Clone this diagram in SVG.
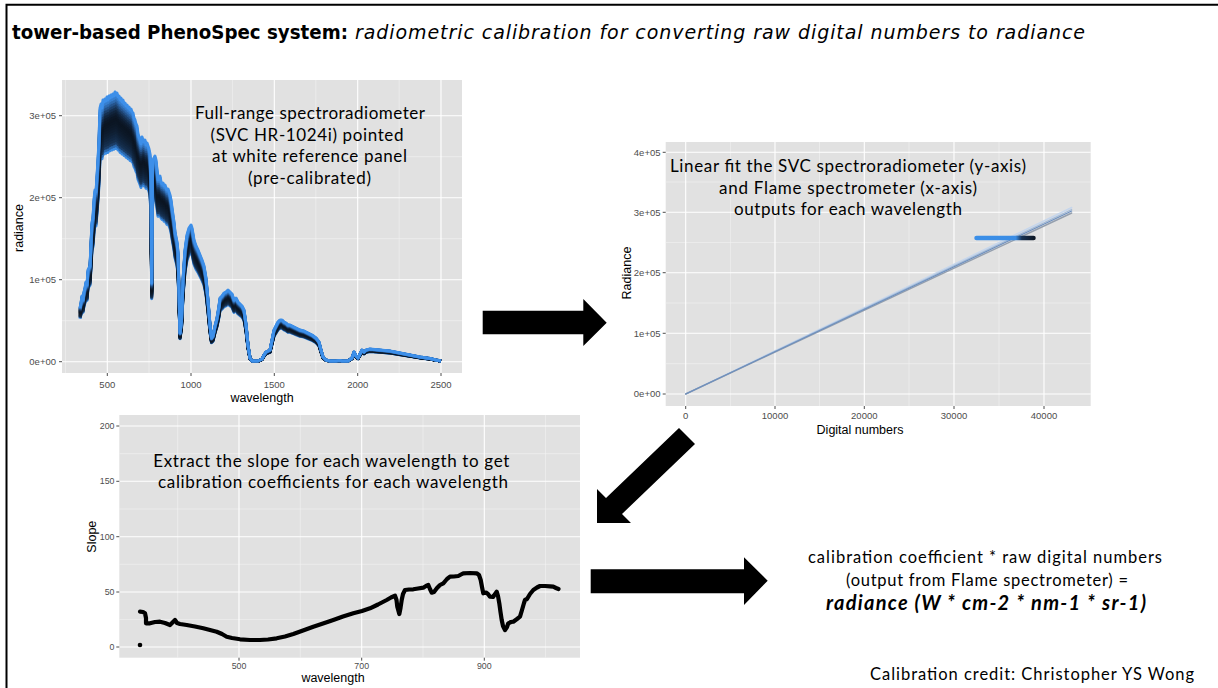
<svg xmlns="http://www.w3.org/2000/svg" xmlns:xlink="http://www.w3.org/1999/xlink" width="1218" height="688" viewBox="0 0 1218 688">
  <style>
    .panel{fill:#e1e1e1}
    .gmaj{stroke:#ffffff;stroke-width:1.1;fill:none}
    .gmin{stroke:#f4f4f4;stroke-width:0.55;fill:none}
    .tick{stroke:#4d4d4d;stroke-width:1}
    .tlx{font-family:'Liberation Sans',Arial,sans-serif;font-size:9.5px;fill:#4d4d4d;text-anchor:middle}
    .tly{font-family:'Liberation Sans',Arial,sans-serif;font-size:9.5px;fill:#4d4d4d;text-anchor:end}
    .sm{font-size:8.8px}
    .at{font-family:'Liberation Sans',Arial,sans-serif;font-size:12.5px;fill:#000;text-anchor:middle}
    .note{font-family:Lato,'Noto Sans',sans-serif;font-size:17px;fill:#000;text-anchor:middle}
    .arrow{fill:#000}
  </style>
  <defs>
    <!-- upper envelope of the white-panel radiance spectra (pixel space) -->
    <path id="spec" fill="none" stroke-linejoin="round" vector-effect="non-scaling-stroke"
      d="M80,308 L81,303 82,296 83,300 84,292 85,288 86,282 87,285 88,270 89,268 90,266 91,244 92,222 93,218 94,200 95,190 96,192 97,176 98,160 99,140 100,108 101,104 102,108 103,100 104,102 105,99 106,101 107,97 108,100 109,96 110,98 111,95 112,97 113,94 114,96 115,92 116,95 117,93 118,97 119,96 120,100 121,98 122,102 123,100 124,104 125,103 126,106 127,105 128,108 129,107 130,110 131,109 132,112 133,113 134,118 135,120 136,124 137,126 138,134 139,137 140,140 141,144 142,137 143,140 144,142 145,140 146,145 147,143 148,146 149,149 150,154 151,180 151.7,283 152.5,170 153,160 154,158 155,156 156,160 157,170 158,180 159,178 160,176 161,182 162,184 163,183 164,186 165,185 166,188 167,190 168,189 169,192 170,195 171,200 172,208 173,215 174,222 175,232 176,237 177,242 178,252 179,290 180,333 181.5,320 183,280 185,250 187,235 189,228 191,225 192,228 194,240 196,246 198,250 200,255 202,260 204,266 206,278 208,300 210,325 211.5,338 213,336 215,326 217,318 219,306 220,298 222,296 224,293 226,292 228,290 230,292 232,294 234,300 236,298 238,302 240,304 242,306 244,310 246,324 248,345 250,358 252,361 258,361 262,359 264,355 266,352 268,351 270,350 272,340 274,330 276,326 278,322 280,320 282,320 284,322 286,323 288,325 290,325 292,326 294,327 296,328 298,329 300,330 304,331 308,333 312,335 316,338 319,342 321,350 323,357 326,360 330,361 336,361 340,360.5 342,361 348,361 352,358 354,352 356,356 358,358 360,354 362,350 364,352 366,350 370,349 380,350 390,351 400,353 410,355 420,357 430,358.5 436,360 441,361"/>
    <linearGradient id="pts" x1="975" y1="0" x2="1035" y2="0" gradientUnits="userSpaceOnUse">
      <stop offset="0" stop-color="#3b8fe8"/>
      <stop offset="0.68" stop-color="#3a8ce4"/>
      <stop offset="0.78" stop-color="#173253"/>
      <stop offset="1" stop-color="#0c1522"/>
    </linearGradient>
  </defs>

  <!-- page frame -->
  <g id="frame">
    <path d="M6.5,700 V4.8 H1230" fill="none" stroke="#000" stroke-width="2"/>
  </g>

  <!-- heading -->
  <g id="title">
    <text x="12" y="39" font-family="'DejaVu Sans',sans-serif" font-size="19" font-weight="bold" textLength="336" lengthAdjust="spacingAndGlyphs">tower-based PhenoSpec system:</text>
    <text x="355" y="39" font-family="'DejaVu Sans',sans-serif" font-size="19" font-style="italic" textLength="730">radiometric calibration for converting raw digital numbers to radiance</text>
  </g>

  <!-- radiance spectra of the white reference panel -->
  <g id="plot-spectrum">
    <rect class="panel" x="62" y="80" width="400" height="293"/>
    <g class="gmin">
      <path d="M62,320.7 H462 M62,238.7 H462 M62,156.7 H462 M65.6,80 V373 M149,80 V373 M232.4,80 V373 M315.8,80 V373 M399.2,80 V373"/>
    </g>
    <g class="gmaj">
      <path d="M62,361.7 H462 M62,279.7 H462 M62,197.7 H462 M62,115.7 H462 M107.3,80 V373 M191,80 V373 M274.3,80 V373 M357.7,80 V373 M441,80 V373"/>
    </g>
    <use href="#spec" stroke="#3a8ce4" stroke-width="3" transform="matrix(1,0,0,0.80,0,72.34)"/>
    <use href="#spec" stroke="#2a66aa" stroke-width="3" transform="matrix(1,0,0,0.81,0,68.72)"/>
    <use href="#spec" stroke="#1b3d66" stroke-width="3" transform="matrix(1,0,0,0.82,0,65.11)"/>
    <use href="#spec" stroke="#16304f" stroke-width="3" transform="matrix(1,0,0,0.83,0,61.49)"/>
    <use href="#spec" stroke="#132a46" stroke-width="3" transform="matrix(1,0,0,0.84,0,57.87)"/>
    <use href="#spec" stroke="#11253e" stroke-width="3" transform="matrix(1,0,0,0.85,0,54.26)"/>
    <use href="#spec" stroke="#0f2136" stroke-width="3" transform="matrix(1,0,0,0.86,0,50.64)"/>
    <use href="#spec" stroke="#0e1d30" stroke-width="3" transform="matrix(1,0,0,0.87,0,47.02)"/>
    <use href="#spec" stroke="#0d1a2b" stroke-width="3" transform="matrix(1,0,0,0.88,0,43.40)"/>
    <use href="#spec" stroke="#0c1827" stroke-width="3" transform="matrix(1,0,0,0.89,0,39.79)"/>
    <use href="#spec" stroke="#0b1624" stroke-width="3" transform="matrix(1,0,0,0.90,0,36.17)"/>
    <use href="#spec" stroke="#0b1522" stroke-width="3" transform="matrix(1,0,0,0.91,0,32.55)"/>
    <use href="#spec" stroke="#0c1726" stroke-width="3" transform="matrix(1,0,0,0.92,0,28.94)"/>
    <use href="#spec" stroke="#0e1c2f" stroke-width="3" transform="matrix(1,0,0,0.93,0,25.32)"/>
    <use href="#spec" stroke="#11243c" stroke-width="3" transform="matrix(1,0,0,0.94,0,21.70)"/>
    <use href="#spec" stroke="#163050" stroke-width="3" transform="matrix(1,0,0,0.95,0,18.09)"/>
    <use href="#spec" stroke="#1d406b" stroke-width="3" transform="matrix(1,0,0,0.96,0,14.47)"/>
    <use href="#spec" stroke="#25548d" stroke-width="3" transform="matrix(1,0,0,0.97,0,10.85)"/>
    <use href="#spec" stroke="#2e6aaf" stroke-width="3" transform="matrix(1,0,0,0.98,0,7.23)"/>
    <use href="#spec" stroke="#367dcd" stroke-width="3" transform="matrix(1,0,0,0.99,0,3.62)"/>
    <use href="#spec" stroke="#3d8fe9" stroke-width="3"/>
    <g class="tick">
      <path d="M59,361.7 H62 M59,279.7 H62 M59,197.7 H62 M59,115.7 H62 M107.3,373 V376 M191,373 V376 M274.3,373 V376 M357.7,373 V376 M441,373 V376"/>
    </g>
    <text class="tly" x="56" y="365">0e+00</text>
    <text class="tly" x="56" y="283">1e+05</text>
    <text class="tly" x="56" y="201">2e+05</text>
    <text class="tly" x="56" y="119">3e+05</text>
    <text class="tlx" x="107.3" y="387.5">500</text>
    <text class="tlx" x="191" y="387.5">1000</text>
    <text class="tlx" x="274.3" y="387.5">1500</text>
    <text class="tlx" x="357.7" y="387.5">2000</text>
    <text class="tlx" x="441" y="387.5">2500</text>
    <text class="at" x="262" y="402">wavelength</text>
    <text class="at" transform="translate(22.5,228) rotate(-90)">radiance</text>
    <text class="note" x="310" y="119" textLength="230">Full-range spectroradiometer</text>
    <text class="note" x="307" y="140.5" textLength="193">(SVC HR-1024i) pointed</text>
    <text class="note" x="309.5" y="162" textLength="195">at white reference panel</text>
    <text class="note" x="309.5" y="183.5" textLength="123">(pre-calibrated)</text>
  </g>

  <!-- linear fit of radiance against digital numbers -->
  <g id="plot-fit">
    <rect class="panel" x="665.7" y="142" width="425" height="264"/>
    <g class="gmin">
      <path d="M665.7,363.7 H1090.7 M665.7,303 H1090.7 M665.7,242.5 H1090.7 M665.7,182 H1090.7 M730.4,142 V406 M819.6,142 V406 M909,142 V406 M999,142 V406"/>
    </g>
    <g class="gmaj">
      <path d="M665.7,394 H1090.7 M665.7,333.3 H1090.7 M665.7,272.7 H1090.7 M665.7,212.3 H1090.7 M665.7,152.3 H1090.7 M685.7,142 V406 M775,142 V406 M864.3,142 V406 M954,142 V406 M1044,142 V406"/>
    </g>
    <g fill="none" stroke-linecap="round">
      <line x1="685.7" y1="394" x2="1071.7" y2="207.5" stroke="#c6d6ec" stroke-width="1.6"/>
      <line x1="685.7" y1="394" x2="1071.7" y2="209.5" stroke="#a3bbd8" stroke-width="1.2"/>
      <line x1="685.7" y1="394" x2="1071.7" y2="213" stroke="#949fae" stroke-width="1.4"/>
      <line x1="685.7" y1="394" x2="1071.7" y2="211" stroke="#6d8fbe" stroke-width="1.2"/>
    </g>
    <line x1="976.5" y1="238" x2="1033.5" y2="238" stroke="url(#pts)" stroke-width="4.5" stroke-linecap="round"/>
    <g class="tick">
      <path d="M662.7,394 H665.7 M662.7,333.3 H665.7 M662.7,272.7 H665.7 M662.7,212.3 H665.7 M662.7,152.3 H665.7 M685.7,406 V409 M775,406 V409 M864.3,406 V409 M954,406 V409 M1044,406 V409"/>
    </g>
    <text class="tly" x="660.5" y="397.3">0e+00</text>
    <text class="tly" x="660.5" y="336.6">1e+05</text>
    <text class="tly" x="660.5" y="276">2e+05</text>
    <text class="tly" x="660.5" y="215.6">3e+05</text>
    <text class="tly" x="660.5" y="155.6">4e+05</text>
    <text class="tlx" x="685.7" y="418.5">0</text>
    <text class="tlx" x="775" y="418.5">10000</text>
    <text class="tlx" x="864.3" y="418.5">20000</text>
    <text class="tlx" x="954" y="418.5">30000</text>
    <text class="tlx" x="1044" y="418.5">40000</text>
    <text class="at" x="860" y="433.5">Digital numbers</text>
    <text class="at" transform="translate(630.5,273) rotate(-90)">Radiance</text>
    <text class="note" x="848" y="172.3" textLength="356">Linear fit the SVC spectroradiometer (y-axis)</text>
    <text class="note" x="848" y="194.3" textLength="258">and Flame spectrometer (x-axis)</text>
    <text class="note" x="848" y="215" textLength="228">outputs for each wavelength</text>
  </g>

  <!-- per-wavelength slopes (calibration coefficients) -->
  <g id="plot-slope">
    <rect class="panel" x="119.3" y="415" width="460.7" height="242.7"/>
    <g class="gmin">
      <path d="M119.3,619.4 H580 M119.3,564.3 H580 M119.3,509 H580 M119.3,453.7 H580 M177.7,415 V657.7 M300.3,415 V657.7 M423,415 V657.7 M545.6,415 V657.7"/>
    </g>
    <g class="gmaj">
      <path d="M119.3,647 H580 M119.3,592 H580 M119.3,536.7 H580 M119.3,481.3 H580 M119.3,426 H580 M239,415 V657.7 M361.7,415 V657.7 M484.3,415 V657.7"/>
    </g>
    <path fill="none" stroke="#000" stroke-width="4.2" stroke-linejoin="round" stroke-linecap="round"
      d="M140,611.7 L143,612 145,613.3 146,618 146,623.3 150,623.3 155,622 160,621.7 165,623 170,625 173,622 175,620 177,623 180,624 186.7,625 195,626.5 203.3,628.3 210,630 216.7,631.7 222,634 226.7,636.7 232,638 240,639.3 250,640 260,640 268,639.5 276.7,638.3 285,636.5 293.3,634 303,630.5 313.3,626.7 323,623.5 333.3,620 343,616.5 353.3,613.3 362,611 370,608.3 378,604.5 386.7,600 391,597.5 395,595.7 396.5,600 397.3,606.7 399.3,614 400.5,608 401.7,600 403,594 405,590 409,589.5 413.3,589.3 418,588.5 423.3,587.7 426,586 428.3,585 430,589 431.7,592.7 434,592 437,588 440,585 443.3,583.3 447,579 450,576.7 454,576.5 458.3,576 461,574.5 463.3,573.3 470,573 476.7,573.3 479,575 480.7,580 482,587 483.3,593.3 486,592.5 488,594 490,596.7 493,597 496.7,591.7 498,596 499.3,603.3 500.5,612 501.7,620 503,626 505,630 507,627 508.3,623.3 511,622 513.3,621.7 517,619 520,616.7 522,610 524,603 525,600 527,599 530,594 533.3,590 537,587.5 540,586 545,586 550,586.3 553.3,586.7 556,588 558.5,589"/>
    <circle cx="140" cy="645" r="2.3" fill="#000"/>
    <g class="tick">
      <path d="M116.3,647 H119.3 M116.3,592 H119.3 M116.3,536.7 H119.3 M116.3,481.3 H119.3 M116.3,426 H119.3 M239,657.7 V660.7 M361.7,657.7 V660.7 M484.3,657.7 V660.7"/>
    </g>
    <text class="tly sm" x="114.5" y="650.1">0</text>
    <text class="tly sm" x="114.5" y="595.1">50</text>
    <text class="tly sm" x="114.5" y="539.8">100</text>
    <text class="tly sm" x="114.5" y="484.4">150</text>
    <text class="tly sm" x="114.5" y="429.1">200</text>
    <text class="tlx sm" x="239" y="668.5">500</text>
    <text class="tlx sm" x="361.7" y="668.5">700</text>
    <text class="tlx sm" x="484.3" y="668.5">900</text>
    <text class="at" x="333" y="681.5">wavelength</text>
    <text class="at" transform="translate(95.5,536.7) rotate(-90)">Slope</text>
    <text class="note" x="331.3" y="466.7" textLength="356">Extract the slope for each wavelength to get</text>
    <text class="note" x="333" y="488.3" textLength="350">calibration coefficients for each wavelength</text>
  </g>

  <!-- resulting conversion to radiance -->
  <g id="result">
    <text class="note" x="985" y="563" style="font-size:16.5px" textLength="354">calibration coefficient * raw digital numbers</text>
    <text class="note" x="987" y="586" style="font-size:16.5px" textLength="282">(output from Flame spectrometer) =</text>
    <text class="note" x="986" y="610" style="font-size:20px;font-weight:bold;font-style:italic" textLength="320">radiance (W * cm-2 * nm-1  * sr-1)</text>
  </g>

  <g id="credit">
    <text class="note" x="1032" y="680" style="font-size:16.5px" textLength="324">Calibration credit: Christopher YS Wong</text>
  </g>

  <!-- block arrows between the steps -->
  <g id="connectors" class="arrow">
    <polygon points="482.7,310.7 583.3,310.7 583.3,299 606.7,322.7 583.3,346 583.3,334.3 482.7,334.3"/>
    <polygon points="679,428 695,444 622,514 631,523 597,523 597,489 606,498"/>
    <polygon points="590.7,569.3 744,569.3 744,557.3 767.7,580.7 744,605 744,593.3 590.7,593.3"/>
  </g>
</svg>
